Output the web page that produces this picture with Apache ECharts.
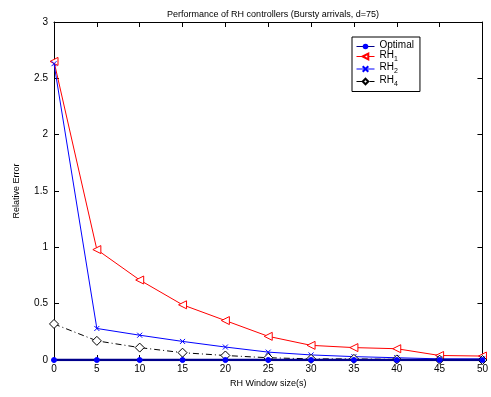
<!DOCTYPE html>
<html><head><meta charset="utf-8">
<script src="https://cdn.jsdelivr.net/npm/echarts@6/dist/echarts.min.js"></script>
<style>html,body{margin:0;padding:0;background:#fff}#c{width:491px;height:397px}</style>
</head><body><div id="c"></div>
<script>
const windowSizes = [0,5,10,15,20,25,30,35,40,45,50];
const optimal = [0,0,0,0,0,0,0,0,0,0,0];
const rh1 = [2.65,0.98,0.71,0.49,0.35,0.21,0.13,0.11,0.10,0.04,0.035];
const rh2 = [2.63,0.28,0.22,0.165,0.115,0.07,0.045,0.03,0.02,0.01,0.01];
const rh4 = [0.32,0.17,0.11,0.065,0.04,0.02,0.01,0.01,0.005,0.003,0.0];
const xTicks = [0,5,10,15,20,25,30,35,40,45,50];
const yTicks = [0,0.5,1,1.5,2,2.5,3];

const pair = arr => windowSizes.map((x,i)=>[x,arr[i]]);
const F = 'Liberation Sans, Arial, sans-serif';
const chart = echarts.init(document.getElementById('c'));
const axisCommon = {
  axisLine:{show:true,onZero:false,lineStyle:{color:'#000',width:1}},
  axisTick:{show:true,inside:true,length:5,lineStyle:{color:'#000'}},
  splitLine:{show:false}
};
chart.setOption({
  animation:false,
  backgroundColor:'#fff',
  title:{text:'Performance of RH controllers (Bursty arrivals, d=75)',left:268,top:5,textAlign:'center',
    textStyle:{fontFamily:F,fontSize:9,fontWeight:'normal',color:'#000'}},
  grid:{left:54,right:8,top:22,bottom:37},
  legend:{
    orient:'vertical',left:352,top:37,itemWidth:18,itemHeight:7,itemGap:0,
    backgroundColor:'#fff',borderColor:'#000',borderWidth:1,padding:[3,6,4,4],
    lineStyle:{width:1},
    data:['Optimal','RH1','RH2','RH4'],
    formatter:function(n){ if(n==='Optimal') return '{n|Optimal}'; return '{n|RH}{s|'+n.slice(2)+'}'; },
    textStyle:{fontFamily:F,fontSize:10,color:'#000',
      rich:{n:{fontFamily:F,fontSize:10,color:'#000',padding:[0,0,3,0]},s:{fontFamily:F,fontSize:7,color:'#000',padding:[5,0,0,0]}}}
  },
  xAxis:[
    Object.assign({type:'value',min:0,max:50,interval:5,position:'bottom',
      name:'RH Window size(s)',nameLocation:'middle',nameGap:17,
      nameTextStyle:{fontFamily:F,fontSize:9,color:'#000'},
      axisLabel:{fontFamily:F,fontSize:10,color:'#000',margin:4}},axisCommon),
    Object.assign({type:'value',min:0,max:50,interval:5,position:'top',axisLabel:{show:false}},axisCommon)
  ],
  yAxis:[
    Object.assign({type:'value',min:0,max:3,interval:0.5,position:'left',
      name:'Relative Error',nameLocation:'middle',nameGap:33,
      nameTextStyle:{fontFamily:F,fontSize:9,color:'#000'},
      axisLabel:{fontFamily:F,fontSize:10,color:'#000',margin:6}},axisCommon),
    Object.assign({type:'value',min:0,max:3,interval:0.5,position:'right',axisLabel:{show:false}},axisCommon)
  ],
  series:[
    {name:'RH1',type:'line',data:pair(rh1),symbol:'triangle',symbolRotate:90,symbolSize:8,
      lineStyle:{color:'#ff0000',width:1},itemStyle:{color:'#fff',borderColor:'#ff0000',borderWidth:1},color:'#ff0000'},
    {name:'RH2',type:'line',data:pair(rh2),symbol:'path://M0,0L10,10M10,0L0,10',symbolSize:5,
      lineStyle:{color:'#0000ff',width:1},itemStyle:{color:'#0000ff',borderColor:'#0000ff',borderWidth:1},color:'#0000ff'},
    {name:'RH4',type:'line',data:pair(rh4),symbol:'diamond',symbolSize:9,
      lineStyle:{color:'#000',width:1,type:[6,3,1,3]},itemStyle:{color:'#fff',borderColor:'#000',borderWidth:1},color:'#000'},
    {name:'Optimal',type:'line',data:pair(optimal),symbol:'circle',symbolSize:5,z:5,
      lineStyle:{color:'#00008b',width:2.5},itemStyle:{color:'#0000ff',borderColor:'#0000ff'},color:'#0000ff'}
  ]
});
</script></body></html>
